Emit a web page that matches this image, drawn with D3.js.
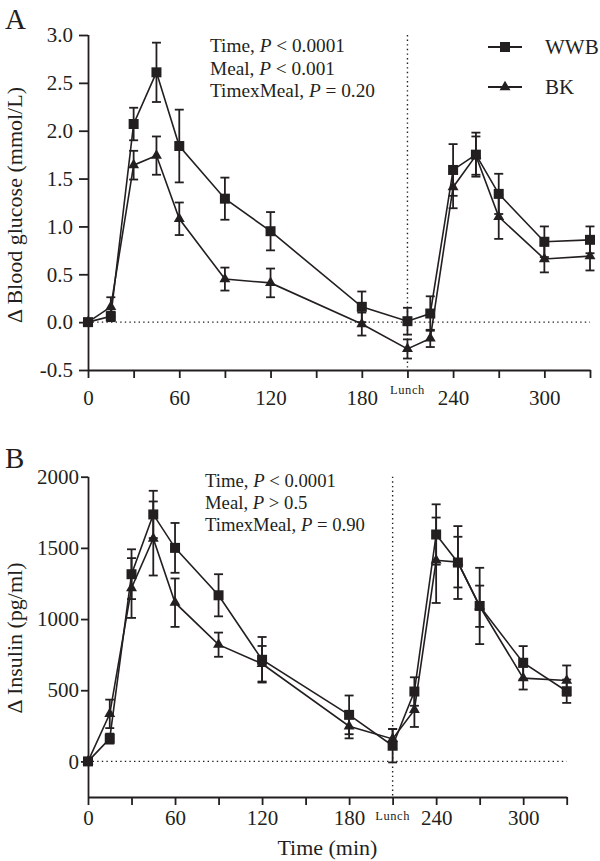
<!DOCTYPE html>
<html>
<head>
<meta charset="utf-8">
<script src="https://cdn.jsdelivr.net/npm/d3@7"></script>
<style>
  html, body { margin: 0; padding: 0; background: #fff; }
  svg { display: block; }
  text { font-family: "Liberation Serif", "Times New Roman", serif; fill: #231f20; }
</style>
</head>
<body>
<svg id="chart" width="600" height="861"></svg>
<script>
// ---- data ----
const times = [0, 15, 30, 45, 60, 90, 120, 180, 210, 225, 240, 255, 270, 300, 330];

const glucoseWWB   = [0, 0.06, 2.07, 2.61, 1.84, 1.29, 0.95, 0.16, 0.01, 0.09, 1.59, 1.75, 1.34, 0.84, 0.86];
const glucoseWWBse = [0, 0.05, 0.17, 0.31, 0.38, 0.22, 0.20, 0.16, 0.14, 0.18, 0.27, 0.23, 0.21, 0.16, 0.14];
const glucoseBK    = [0, 0.16, 1.64, 1.74, 1.08, 0.45, 0.41, -0.02, -0.28, -0.17, 1.41, 1.74, 1.10, 0.66, 0.69];
const glucoseBKse  = [0, 0.10, 0.15, 0.20, 0.17, 0.12, 0.15, 0.12, 0.10, 0.09, 0.22, 0.20, 0.23, 0.14, 0.15];

const insulinWWB   = [0, 160, 1315, 1735, 1500, 1167, 714, 327, 110, 491, 1594, 1397, 1092, 693, 493];
const insulinWWBse = [0, 35, 175, 166, 175, 148, 160, 136, 117, 100, 212, 256, 268, 117, 82];
const insulinBK    = [0, 334, 1218, 1566, 1115, 820, 686, 247, 158, 362, 1413, 1400, 1090, 585, 568];
const insulinBKse  = [0, 100, 210, 260, 170, 85, 125, 85, 70, 120, 300, 178, 145, 80, 106];

const xTicks = [0, 30, 60, 90, 120, 150, 180, 210, 240, 270, 300, 330];
const xTickLabels = [0, 60, 120, 180, 240, 300];
const glucoseTicks = [-0.5, 0, 0.5, 1.0, 1.5, 2.0, 2.5, 3.0];
const insulinTicks = [0, 500, 1000, 1500, 2000];
const lunchTime = 210;

const seriesNames = ["WWB", "BK"];
const statsA = [["Time, ", "P", " < 0.0001"], ["Meal, ", "P", " < 0.001"], ["TimexMeal, ", "P", " = 0.20"]];
const statsB = [["Time, ", "P", " < 0.0001"], ["Meal, ", "P", " > 0.5"], ["TimexMeal, ", "P", " = 0.90"]];

// ---- drawing ----
const svg = d3.select("#chart");
const ink = "#231f20";

function panel(cfg) {
  const g = svg.append("g");
  const x = d3.scaleLinear().domain([0, 330]).range([88, cfg.xRight]);
  const y = d3.scaleLinear().domain(cfg.yDomain).range([cfg.yBottom, cfg.yTop]);

  // zero dotted line
  g.append("line")
    .attr("x1", x(0)).attr("x2", x(330))
    .attr("y1", y(0)).attr("y2", y(0))
    .attr("stroke", ink).attr("stroke-width", 1.4)
    .attr("stroke-dasharray", "1.4,3.2");
  // lunch dotted line
  g.append("line")
    .attr("x1", x(lunchTime)).attr("x2", x(lunchTime))
    .attr("y1", cfg.yTop).attr("y2", cfg.yBottom)
    .attr("stroke", ink).attr("stroke-width", 1.4)
    .attr("stroke-dasharray", "1.4,3.2");

  // axes
  const xAxis = d3.axisBottom(x).tickValues(xTicks).tickSize(8).tickSizeOuter(0)
    .tickFormat(d => xTickLabels.includes(d) ? String(d) : "");
  const gx = g.append("g").attr("transform", `translate(0,${cfg.yBottom})`).call(xAxis);
  gx.selectAll("text").attr("dy", null).attr("y", cfg.xLabelY).style("font-size", "21px");
  gx.append("text").attr("x", x(lunchTime)).attr("y", cfg.lunchY)
    .attr("text-anchor", "middle").style("font-size", "12.5px").style("letter-spacing", "0.6px")
    .attr("fill", ink).text("Lunch");

  const yAxis = d3.axisLeft(y).tickValues(cfg.yTicks).tickSize(cfg.yTickSize).tickSizeOuter(0)
    .tickPadding(cfg.yTickPad).tickFormat(cfg.fmt);
  const gy = g.append("g").attr("transform", `translate(88,0)`).call(yAxis);
  gy.selectAll("text").style("font-size", "21px");
  [gx, gy].forEach(a => {
    a.select(".domain").attr("stroke", ink).attr("stroke-width", 1.8);
    a.selectAll(".tick line").attr("stroke", ink).attr("stroke-width", 1.8);
    a.selectAll("text").attr("fill", ink).style("font-family", '"Liberation Serif", serif');
  });
  gy.select(".domain").attr("d", `M0.5,${cfg.yTop}V${cfg.yBottom}`);

  // series
  const series = [
    { name: "WWB", vals: cfg.wwb, se: cfg.wwbSe, sym: d3.symbolSquare, size: 100 },
    { name: "BK", vals: cfg.bk, se: cfg.bkSe, sym: d3.symbolTriangle, size: 52 }
  ];
  const line = d3.line().x(d => x(d.t)).y(d => y(d.v));
  series.forEach(s => {
    const pts = times.map((t, i) => ({ t, v: s.vals[i], e: s.se[i] }));
    g.append("path").datum(pts).attr("d", line)
      .attr("fill", "none").attr("stroke", ink).attr("stroke-width", 1.6);
    const eb = g.append("g").selectAll("g").data(pts.filter(p => p.e > 0)).join("g")
      .attr("stroke", ink).attr("stroke-width", 1.8);
    eb.append("line").attr("x1", d => x(d.t)).attr("x2", d => x(d.t))
      .attr("y1", d => y(d.v - d.e)).attr("y2", d => y(d.v + d.e));
    eb.append("line").attr("x1", d => x(d.t) - 4.5).attr("x2", d => x(d.t) + 4.5)
      .attr("y1", d => y(d.v + d.e)).attr("y2", d => y(d.v + d.e));
    eb.append("line").attr("x1", d => x(d.t) - 4.5).attr("x2", d => x(d.t) + 4.5)
      .attr("y1", d => y(d.v - d.e)).attr("y2", d => y(d.v - d.e));
  });
  series.forEach(s => {
    const pts = times.map((t, i) => ({ t, v: s.vals[i] }));
    g.append("g").selectAll("path").data(pts).join("path")
      .attr("d", d3.symbol().type(s.sym).size(s.size))
      .attr("transform", d => `translate(${x(d.t)},${y(d.v)})`)
      .attr("fill", ink);
  });

  // panel letter
  g.append("text").attr("x", 5).attr("y", cfg.letterY).style("font-size", "29px").text(cfg.letter);
  // y title
  g.append("text").attr("transform", `translate(22,${cfg.yTitleY}) rotate(-90)`)
    .attr("text-anchor", "middle").style("font-size", "22px").text(cfg.yTitle);
  // stats
  const st = g.append("text").style("font-size", cfg.statSize + "px");
  cfg.stats.forEach((parts, i) => {
    st.append("tspan").attr("x", cfg.statX).attr("y", cfg.statY + i * cfg.statDy).text(parts[0]);
    st.append("tspan").style("font-style", "italic").text(parts[1]);
    st.append("tspan").text(parts[2]);
  });
  return { g, x, y };
}

const A = panel({
  letter: "A", letterY: 29,
  xRight: 590, yDomain: [-0.5, 3.0], yTop: 35, yBottom: 370,
  yTicks: glucoseTicks, yTickSize: 9, yTickPad: 6, fmt: d => d.toFixed(1),
  xLabelY: 35, lunchY: 24,
  wwb: glucoseWWB, wwbSe: glucoseWWBse, bk: glucoseBK, bkSe: glucoseBKse,
  yTitle: "Δ Blood glucose (mmol/L)", yTitleY: 205,
  stats: statsA, statX: 210, statY: 52, statDy: 22.5, statSize: 19.3
});

const B = panel({
  letter: "B", letterY: 468,
  xRight: 566.7, yDomain: [-250, 2000], yTop: 476.7, yBottom: 797,
  yTicks: insulinTicks, yTickSize: 7, yTickPad: 2, fmt: d => String(d),
  xLabelY: 28, lunchY: 23,
  wwb: insulinWWB, wwbSe: insulinWWBse, bk: insulinBK, bkSe: insulinBKse,
  yTitle: "Δ Insulin (pg/ml)", yTitleY: 638,
  stats: statsB, statX: 205, statY: 487, statDy: 22.2, statSize: 18.7
});

// x title
svg.append("text").attr("x", 327.4).attr("y", 855).attr("text-anchor", "middle")
  .style("font-size", "22px").text("Time (min)");

// legend
const legend = svg.append("g");
const legSyms = [d3.symbolSquare, d3.symbolTriangle];
const legSizes = [100, 52];
const legY = d3.scalePoint().domain(seriesNames).range([47, 87]);
seriesNames.forEach((n, i) => {
  const yy = legY(n);
  legend.append("line").attr("x1", 488).attr("x2", 522).attr("y1", yy).attr("y2", yy)
    .attr("stroke", ink).attr("stroke-width", 1.8);
  legend.append("path").attr("d", d3.symbol().type(legSyms[i]).size(legSizes[i]))
    .attr("transform", `translate(505,${yy})`).attr("fill", ink);
  legend.append("text").attr("x", 545).attr("y", yy + 7.3).style("font-size", "21px").text(n);
});
</script>
</body>
</html>
